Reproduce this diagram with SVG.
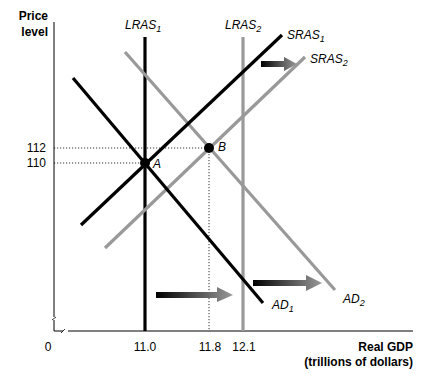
<svg xmlns="http://www.w3.org/2000/svg" width="438" height="385" viewBox="0 0 438 385">
<style>
text{font-family:"Liberation Sans",Arial,sans-serif;font-size:12px;fill:#000}
.b{font-weight:bold}
.i{font-style:italic}
.r{text-anchor:end}
.m{text-anchor:middle}
.dot{stroke:#000;stroke-width:0.8;stroke-dasharray:1.2 1.8;fill:none}
.blk{stroke:#000;stroke-width:3.2;fill:none}
.gry{stroke:#999;stroke-width:3.2;fill:none}
</style>
<defs>
<linearGradient id="g" x1="0" x2="1" y1="0" y2="0">
<stop offset="0" stop-color="#000"/>
<stop offset="1" stop-color="#999"/>
</linearGradient>
</defs>
<rect width="438" height="385" fill="#fff"/>
<g id="axes" fill="none" stroke="#000" stroke-width="1">
<path d="M54,22 V317 M54,320 V331 H63 M68,331 H413"/>
<path d="M52,320 L56,317 M61,333 L65,329" stroke-width="0.8"/>
</g>
<g id="labels">
<text class="b r" x="48" y="20">Price</text>
<text class="b r" x="48" y="36">level</text>
<text class="b r" x="413" y="351">Real GDP</text>
<text class="b r" x="413" y="366">(trillions of dollars)</text>
<text class="m" x="48" y="351">0</text>
<text class="m" x="145" y="351">11.0</text>
<text class="m" x="210" y="351">11.8</text>
<text class="m" x="244" y="351">12.1</text>
<text class="r" x="46" y="152">112</text>
<text class="r" x="46" y="167">110</text>
</g>
<g id="connectors">
<path class="dot" d="M54,148 H209 M54,163 H145 M209,148 V331"/>
</g>
<g id="LRAS1"><path class="blk" d="M145,37 V331"/><text class="i" x="125" y="29">LRAS<tspan font-size="9" dy="3">1</tspan></text></g>
<g id="LRAS2"><path class="gry" d="M243,37 V331"/><text class="i" x="225" y="29">LRAS<tspan font-size="9" dy="3">2</tspan></text></g>
<g id="AD2"><path class="gry" d="M125,52 L335,290"/><text class="i" x="343" y="303">AD<tspan font-size="9" dy="3">2</tspan></text></g>
<g id="SRAS2"><path class="gry" d="M105,248 L305,57"/><text class="i" x="310" y="63">SRAS<tspan font-size="9" dy="3">2</tspan></text></g>
<g id="AD1"><path class="blk" d="M73,78 L263,303"/><text class="i" x="272" y="309">AD<tspan font-size="9" dy="3">1</tspan></text></g>
<g id="SRAS1"><path class="blk" d="M81,225 L282,35"/><text class="i" x="287" y="39">SRAS<tspan font-size="9" dy="3">1</tspan></text></g>
<g id="A"><circle cx="145" cy="163" r="5"/><text class="i" x="153" y="168">A</text></g>
<g id="B"><circle cx="209" cy="148" r="5"/><text class="i" x="218" y="151">B</text></g>
<g id="arrows" fill="url(#g)">
<path d="M156,292 H217 V287 L233,295 L217,302 V298 H156 Z"/>
<path d="M253,280 H306 V275 L322,283 L306,291 V286 H253 Z"/>
<path d="M261,61 H284 V57 L297,64 L284,71 V67 H261 Z"/>
</g>
</svg>
